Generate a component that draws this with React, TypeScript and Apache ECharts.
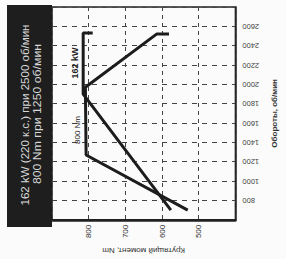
import React, { useEffect, useRef } from "react";
import * as echarts from "echarts";

const rpmTicks = [800, 1000, 1200, 1400, 1600, 1800, 2000, 2200, 2400, 2600];
const torqueTicks = [500, 600, 700, 800];

// power curve (plotted on the torque scale), points: rpm / value
const powerRpm = [2530, 2530, 1900, 700];
const powerVal = [789, 815, 815, 576];

// torque curve
const torqueRpm = [2520, 2520, 1970, 1270, 700];
const torqueVal = [581, 615, 809, 807, 530];

const boxLine1 = "162 kW (220 к.с.) при 2500 об/мин";
const boxLine2 = "800 Nm при 1250 об/мин";
const powerLabel = "162 kW";
const torqueLabel = "800 Nm";
const xName = "Крутящий момент, Nm";
const yName = "Обороты, об/мин";

export default function App() {
  const ref = useRef<HTMLDivElement>(null);
  useEffect(() => {
    if (!ref.current) return;
    const chart = echarts.init(ref.current, undefined, { renderer: "svg" });
    const font = "Liberation Sans";
    const lineColor = "#1c1c1c";
    chart.setOption({
      animation: false,
      backgroundColor: "#fbfbfb",
      textStyle: { fontFamily: font },
      grid: {
        left: 52,
        right: 41,
        top: 7,
        bottom: 32,
        show: true,
        borderColor: "#222",
        borderWidth: 1.5,
      },
      xAxis: {
        type: "value",
        inverse: true,
        min: 400,
        max: 900,
        interval: 100,
        position: "bottom",
        name: xName,
        nameLocation: "middle",
        nameGap: 23,
        nameRotate: 180,
        nameTextStyle: { fontSize: 8, color: "#333", fontFamily: font },
        axisLine: { show: true, lineStyle: { color: "#222", width: 2.5 } },
        axisTick: { show: false },
        axisLabel: {
          rotate: 90,
          fontSize: 8,
          color: "#333",
          margin: 5,
          showMinLabel: false,
          showMaxLabel: false,
          formatter: (v: number) => (torqueTicks.includes(v) ? String(v) : ""),
        },
        splitLine: {
          show: true,
          lineStyle: { color: "#444", type: [4, 4], width: 1 },
        },
      },
      yAxis: {
        type: "value",
        position: "right",
        min: 600,
        max: 2800,
        interval: 200,
        name: yName,
        nameLocation: "middle",
        nameGap: 34,
        nameRotate: 90,
        nameTextStyle: { fontSize: 8, color: "#333", fontWeight: "bold", fontFamily: font },
        axisLine: { show: true, lineStyle: { color: "#222", width: 1.5 } },
        axisTick: { show: false },
        axisLabel: {
          rotate: 180,
          fontSize: 7.5,
          color: "#444",
          margin: 7,
          showMinLabel: false,
          showMaxLabel: false,
          formatter: (v: number) => (rpmTicks.includes(v) ? String(v) : ""),
        },
        splitLine: {
          show: true,
          lineStyle: { color: "#444", type: [5, 5], width: 1 },
        },
      },
      series: [
        {
          type: "line",
          symbol: "none",
          data: powerRpm.map((r, i) => [powerVal[i], r]),
          lineStyle: { color: lineColor, width: 3 },
          z: 3,
        },
        {
          type: "line",
          symbol: "none",
          data: torqueRpm.map((r, i) => [torqueVal[i], r]),
          lineStyle: { color: lineColor, width: 3 },
          z: 3,
        },
      ],
      graphic: [
        {
          type: "rect",
          shape: { x: 7, y: 5, width: 45, height: 222 },
          style: { fill: "#1e1e1e" },
          z: 10,
        },
        {
          type: "text",
          x: 25,
          y: 115,
          rotation: Math.PI / 2,
          scaleX: 1.1,
          style: {
            text: boxLine1,
            fill: "#d8d8d8",
            fontSize: 10.5,
            fontFamily: font,
            align: "center",
            verticalAlign: "middle",
          },
          z: 11,
        },
        {
          type: "text",
          x: 37,
          y: 114,
          rotation: Math.PI / 2,
          scaleX: 1.17,
          style: {
            text: boxLine2,
            fill: "#d8d8d8",
            fontSize: 10.5,
            fontFamily: font,
            align: "center",
            verticalAlign: "middle",
          },
          z: 11,
        },
        {
          type: "text",
          x: 75,
          y: 63,
          rotation: Math.PI / 2,
          style: {
            text: powerLabel,
            fill: "#222",
            fontSize: 9,
            fontWeight: "bold",
            fontFamily: font,
            align: "center",
            verticalAlign: "middle",
          },
          z: 11,
        },
        {
          type: "text",
          x: 77,
          y: 130,
          rotation: Math.PI / 2,
          style: {
            text: torqueLabel,
            fill: "#222",
            fontSize: 8,
            fontFamily: font,
            align: "center",
            verticalAlign: "middle",
          },
          z: 11,
        },
      ],
    });
    return () => chart.dispose();
  }, []);
  return (
    <div
      ref={ref}
      style={{ position: "fixed", left: 0, top: 0, width: 286, height: 259 }}
    />
  );
}
